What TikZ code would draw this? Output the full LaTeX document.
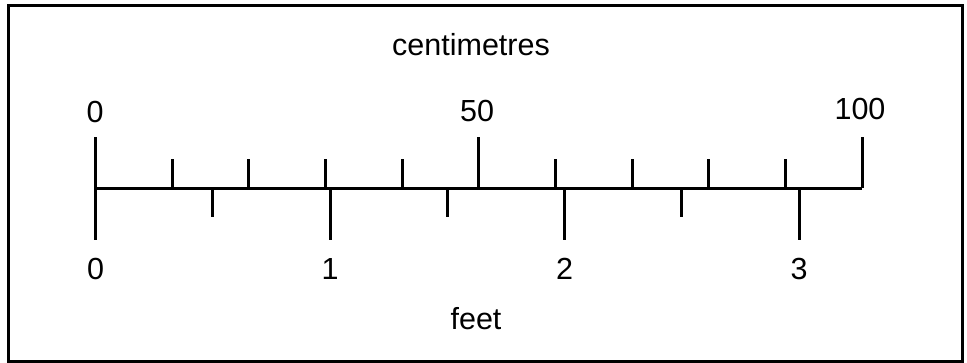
\documentclass[tikz,border=0pt]{standalone}
\usepackage{fontspec}
\setmainfont{Liberation Sans}
\begin{document}
\begin{tikzpicture}[
      x=1pt,y=-1pt,
      frame/.style={line width=3pt},
      scaleline/.style={line width=3pt},
      tick/.style={line width=3pt},
      label/.style={anchor=base,inner sep=0pt,font=\fontsize{30.5}{36}\selectfont}
    ]
    \useasboundingbox (0,0) rectangle (967,362);
    % Draw the frame.
    \draw[frame] (8,5) rectangle (962,361);
    % Draw the scale line.
    \draw[scaleline] (95.5,188) -- (862,188);
    % Draw the centimetre ticks.
    \draw[tick] (95.5,188)  -- (95.5,137);
    \draw[tick] (172.2,188) -- (172.2,159);
    \draw[tick] (248.8,188) -- (248.8,159);
    \draw[tick] (325.5,188) -- (325.5,159);
    \draw[tick] (402.1,188) -- (402.1,159);
    \draw[tick] (478.8,188) -- (478.8,137);
    \draw[tick] (555.4,188) -- (555.4,159);
    \draw[tick] (632.1,188) -- (632.1,159);
    \draw[tick] (708.7,188) -- (708.7,159);
    \draw[tick] (785.4,188) -- (785.4,159);
    \draw[tick] (862,188)   -- (862,137);
    % Draw the feet ticks.
    \draw[tick] (95.5,188)  -- (95.5,240);
    \draw[tick] (212.8,188) -- (212.8,217);
    \draw[tick] (330,188)   -- (330,240);
    \draw[tick] (447.3,188) -- (447.3,217);
    \draw[tick] (564.5,188) -- (564.5,240);
    \draw[tick] (681.8,188) -- (681.8,217);
    \draw[tick] (799,188)   -- (799,240);
    % Label the centimetres.
    \node[label] (cmtitle) at (471,55)    {centimetres};
    \node[label] (cmzero)  at (95,122)    {0};
    \node[label] (cmfifty) at (477,121.7) {50};
    \node[label] (cmhund)  at (860,119.3) {100};
    % Label the feet.
    \node[label] (ftzero)  at (95.5,279)  {0};
    \node[label] (ftone)   at (330,279)   {1};
    \node[label] (fttwo)   at (564.5,279) {2};
    \node[label] (ftthree) at (799,279)   {3};
    \node[label] (fttitle) at (476,329)   {feet};
    \end{tikzpicture}
\end{document}
